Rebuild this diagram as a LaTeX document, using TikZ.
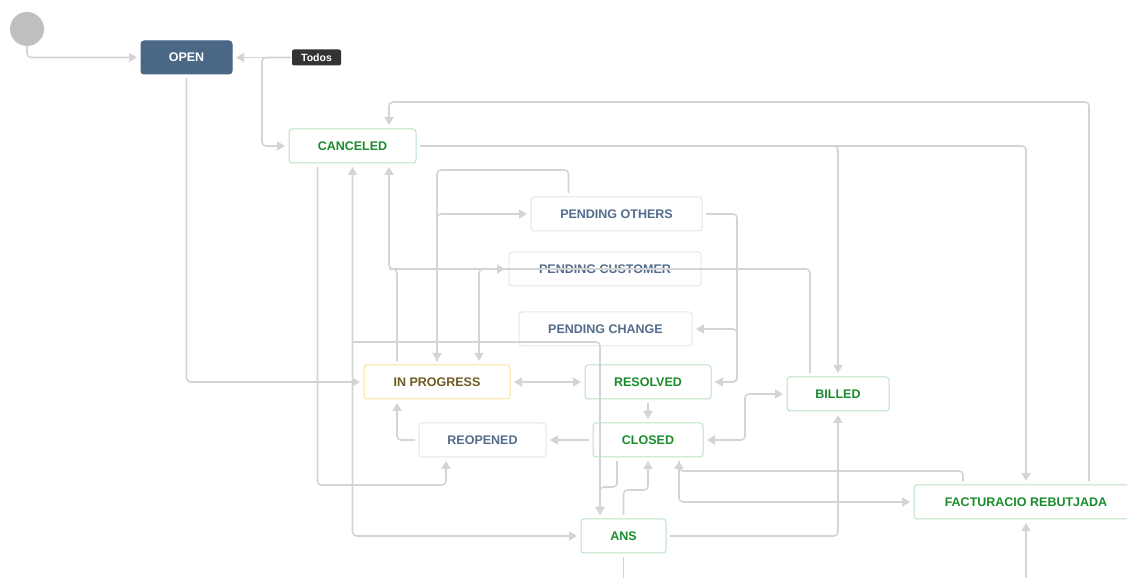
\documentclass[tikz,border=0pt]{standalone}
\usepackage{fontspec}
\setmainfont{Liberation Sans}
\usepackage{tikz}
\usetikzlibrary{arrows.meta}
\usetikzlibrary{positioning}
\definecolor{linegray}{RGB}{212,212,212}
\definecolor{openblue}{RGB}{74,103,133}
\definecolor{todosdark}{RGB}{51,51,51}
\definecolor{greentext}{RGB}{26,140,46}
\definecolor{greenline}{RGB}{188,226,194}
\definecolor{bluetext}{RGB}{84,108,140}
\definecolor{blueline}{RGB}{226,230,237}
\definecolor{yellowline}{RGB}{252,226,150}
\definecolor{browntext}{RGB}{112,90,34}
\tikzset{>={Triangle[length=8pt,width=9pt]}, font=\fontsize{12.5}{13}\selectfont\bfseries}
\tikzstyle{state} = [draw, fill=white, rectangle, rounded corners=3pt, minimum height=34pt, inner sep=0pt, outer sep=0pt, line width=1pt, text centered]
\tikzstyle{greenstate} = [state, draw=greenline, text=greentext]
\tikzstyle{bluestate} = [state, draw=blueline, text=bluetext]
\tikzstyle{yellowstate} = [state, draw=yellowline, text=browntext]
\tikzstyle{openstate} = [state, draw=openblue, fill=openblue, text=white]
\tikzstyle{lozenge} = [fill=todosdark, rectangle, rounded corners=2pt, minimum width=49pt, minimum height=16pt, inner sep=0pt, outer sep=0pt, text=white, font=\fontsize{10.5}{11}\selectfont\bfseries]
\tikzstyle{start} = [circle, fill=black!25, minimum size=34pt, inner sep=0pt, outer sep=0pt]
\tikzstyle{conn} = [draw=linegray, line width=1.6pt, rounded corners=4pt, shorten >=4pt, shorten <=4pt]

\begin{document}
\begin{tikzpicture}[x=1pt, y=1pt]
        \useasboundingbox (0,0) rectangle (1127,578);
        \node [start] (start) at (27,549) {};
        \node [openstate, minimum width=91pt, minimum height=33pt] (open) at (186.5,520.5) {OPEN};
        \node [lozenge, right=60pt of open] (todos) {Todos};
        \node [greenstate, minimum width=127pt] (canceled) at (352.5,432) {CANCELED};
        \node [yellowstate, minimum width=146pt] (inprogress) at (437,196) {IN PROGRESS};
        \node [greenstate, minimum width=126pt, right=75pt of inprogress] (resolved) {RESOLVED};
        \node [greenstate, minimum width=110pt, below=24pt of resolved] (closed) {CLOSED};
        \node [bluestate, minimum width=127pt, left=47pt of closed] (reopened) {REOPENED};
        \node [greenstate, minimum width=85pt, below=62pt of closed, xshift=-24.5pt] (ans) {ANS};
        \node [greenstate, minimum width=102pt, right=76pt of resolved, yshift=-12pt] (billed) {BILLED};
        \node [bluestate, minimum width=173pt, above=19pt of resolved, xshift=-42.5pt] (pchange) {PENDING CHANGE};
        \node [bluestate, minimum width=192pt, above=26pt of pchange, xshift=-0.5pt] (pcustomer) {PENDING CUSTOMER};
        \node [bluestate, minimum width=171pt, above=21pt of pcustomer, xshift=11.5pt] (pothers) {PENDING OTHERS};
        \node [greenstate, minimum width=224pt] (factura) at (1026,76) {FACTURACIO REBUTJADA};
        \coordinate [below=35pt of ans.south] (ans_out);
        \coordinate [below=70pt of factura.south] (fact_in);

        \draw [conn, ->, shorten <=0pt] (start.south) |- (open.west);
        \draw [conn, ->, shorten <=1pt] (todos.west) -- (open.east);
        \draw [conn, ->, shorten <=1pt] (todos.west) -| ([xshift=-27pt]canceled.west) -- (canceled.west);
        \draw [conn, ->] (open.south) |- (inprogress.west);
        \draw [conn, ->] ([xshift=-35pt]canceled.south) -- ++(0,-322pt) -| ([xshift=-36.5pt]reopened.south);
        \draw [conn, <->] (canceled.south) |- (ans.west);
        \draw [conn, ->, shorten <=0pt] ([yshift=-179pt]canceled.south) -| ([xshift=-23.5pt]ans.north);
        \draw [conn, ->] ([xshift=-31pt]closed.south) -- ++(0,-30pt) -| ([xshift=-23.5pt]ans.north);
        \draw [conn, ->] (ans.north) -- ++(0,29pt) -| (closed.south);
        \draw [conn] (ans.south) -- (ans_out);
        \draw [conn, ->] (ans.east) -| (billed.south);
        \draw [conn, <->] (closed.east) -- ++(42pt,0) |- (billed.west);
        \draw [conn, ->] (closed.west) -- (reopened.east);
        \draw [conn, ->] (reopened.west) -| ([xshift=-40pt]inprogress.south);
        \draw [conn, <->] (inprogress.east) -- (resolved.west);
        \draw [conn, ->] (resolved) -- (closed);
        \draw [conn, ->] ([xshift=31pt]closed.south) |- (factura.west);
        \draw [conn, ->] ([xshift=-63pt]factura.north) -- ++(0,14pt) -| ([xshift=31pt]closed.south);
        \draw [conn, ->] (canceled.east) -| (billed.north);
        \draw [conn, ->] (canceled.east) -| (factura.north);
        \draw [conn, ->] ([xshift=63pt]factura.north) -- ++(0,383pt) -| ([xshift=36.5pt]canceled.north);
        \draw [conn, ->, shorten <=0pt] (fact_in) -- (factura.south);
        \draw [conn, ->] ([xshift=-28pt]billed.north) -- ++(0,108pt) -| ([xshift=36.5pt]canceled.south);
        \draw [conn, shorten >=0pt] ([xshift=-40pt]inprogress.north) -- ++(0,96pt) -- ++(-8pt,0);
        \draw [conn, <->] ([xshift=42pt]inprogress.north) |- (pcustomer.west);
        \draw [conn, ->] ([xshift=-48pt]pothers.north) -- ++(0,27pt) -| (inprogress.north);
        \draw [conn, ->] (inprogress.north) |- (pothers.west);
        \draw [conn, ->] (pothers.east) -- ++(35pt,0) |- (resolved.east);
        \draw [conn, ->] (resolved.east) -- ++(26pt,0) |- (pchange.east);
    \end{tikzpicture}
\end{document}
